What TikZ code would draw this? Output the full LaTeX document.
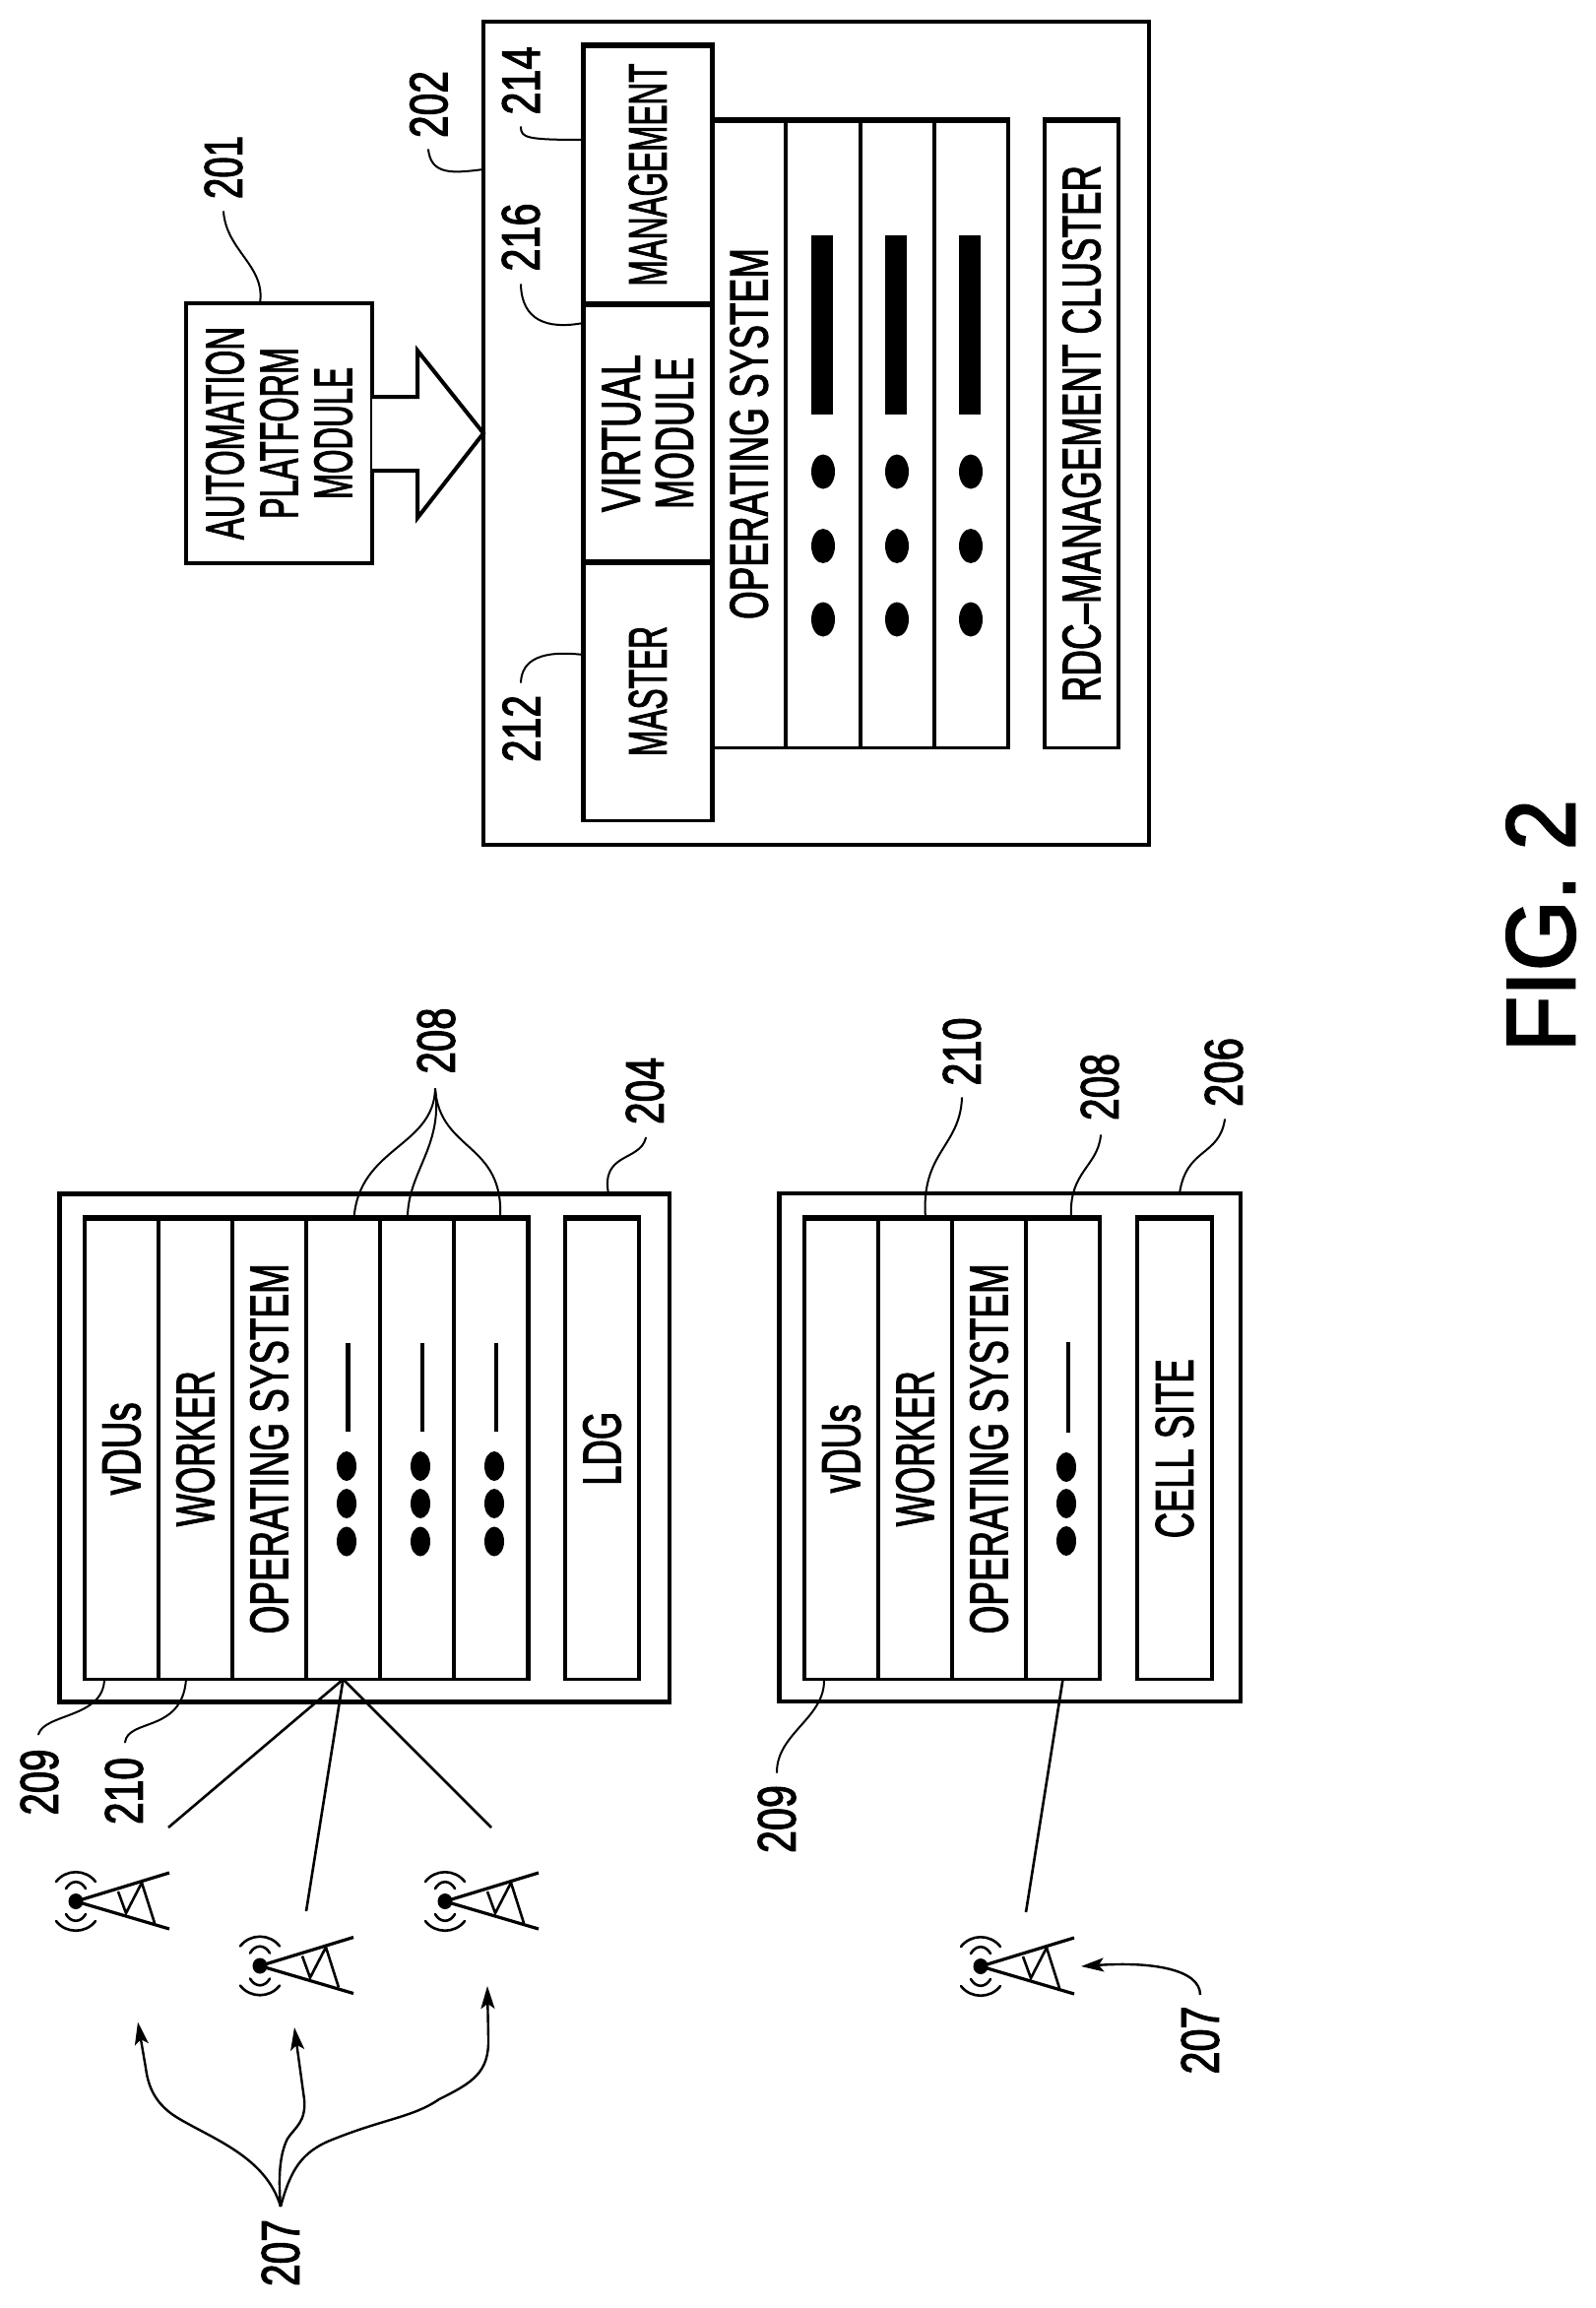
\documentclass[tikz,border=0pt]{standalone}
\usepackage{fontspec}
\setmainfont{Liberation Sans}
\newfontfamily\inkfont[FakeBold=2.4]{Liberation Sans}
\usetikzlibrary{arrows.meta,shapes.geometric}
% ink-fitted text: length along the reading direction, cap height
\newcommand{\ft}[3]{\resizebox{#1pt}{#2pt}{\inkfont #3}}
\newcommand{\vt}[3]{\rotatebox{90}{\ft{#1}{#2}{#3}}}
\newcommand{\vtwo}[2]{\rotatebox{90}{\vbox{\baselineskip=54pt\lineskiplimit=-200pt\hbox to 165pt{\hfil#1\hfil}\hbox to 165pt{\hfil#2\hfil}}}}
\newcommand{\vthree}[3]{\rotatebox{90}{\vbox{\baselineskip=55pt\lineskiplimit=-200pt\hbox to 220pt{\hfil#1\hfil}\hbox to 220pt{\hfil#2\hfil}\hbox to 220pt{\hfil#3\hfil}}}}
\tikzset{
  box/.style={draw=black,fill=white,line width=3pt,inner sep=0pt,outer sep=0pt,line join=miter},
  outerbox/.style={box,line width=4.5pt},
  topedge/.style={line width=6pt},
  sideedge/.style={line width=4.6pt},
  inkbar/.style={fill=black,draw=none,inner sep=0pt,outer sep=0pt},
  inkdot/.style={ellipse,fill=black,draw=none,inner sep=0pt,outer sep=0pt},
  lbl/.style={inner sep=0pt,outer sep=0pt},
  leader/.style={line width=2pt,line cap=round},
  link/.style={line width=2.6pt},
  headed/.style={line width=2.4pt,-{Stealth[length=23pt,width=14pt,inset=5pt]}},
  blockarrow/.style={line width=4pt,line join=miter,fill=white},
  tower/.pic={
    \fill (0,0) ellipse[x radius=7.5pt,y radius=8pt];
    \draw[line width=3.2pt] (95,-29) -- (0,0) -- (95,28);
    \draw[line width=2.6pt] (43,-10) -- (51,12) -- (67,-19) -- (80,22);
    \draw[line width=2.6pt,line cap=round]
      (-10,-13) .. controls (-5,-22) and (5,-22) .. (10,-13)
      (-20,-20) .. controls (-10,-33) and (10,-33) .. (20,-20)
      (-10,13) .. controls (-5,22) and (5,22) .. (10,13)
      (-20,20) .. controls (-10,33) and (10,33) .. (20,20);
  }
}
\begin{document}
\begin{tikzpicture}[x=1pt,y=-1pt]
\useasboundingbox (0,0) rectangle (1621,2344);
\fill[white] (0,0) rectangle (1621,2344);

% ---------- regional data centre block ----------
\node[box,line width=4pt,minimum width=189pt,minimum height=264pt] (apm) at (283.5,440)
  {\vthree{\ft{216}{38}{AUTOMATION}}{\ft{174}{38}{PLATFORM}}{\ft{134}{38}{MODULE}}};
\node[outerbox,line width=4pt,minimum width=676pt,minimum height=836pt] (rdc) at (829,440) {};
\node[box,minimum width=131pt,minimum height=263pt] (mgmt) at (658,177.5) {\vt{226}{38}{MANAGEMENT}};
\node[box,minimum width=131pt,minimum height=262pt] (virt) at (658,440)
  {\vtwo{\ft{160}{38}{VIRTUAL}}{\ft{154}{38}{MODULE}}};
\node[box,minimum width=131pt,minimum height=262pt] (master) at (658,702) {\vt{132}{38}{MASTER}};
\node[box,minimum width=74.5pt,minimum height=637pt] (ros) at (760.75,440.5) {\vt{377}{38}{OPERATING SYSTEM}};
\node[box,minimum width=76pt,minimum height=637pt] (r1) at (836,440.5) {};
\node[box,minimum width=75pt,minimum height=637pt] (r2) at (911.5,440.5) {};
\node[box,minimum width=75pt,minimum height=637pt] (r3) at (986.5,440.5) {};
\node[box,minimum width=75pt,minimum height=637pt] (rcl) at (1098.5,440.5) {\vt{545}{38}{RDC–MANAGEMENT CLUSTER}};
\node[inkbar,minimum width=22pt,minimum height=182pt] (rb1) at (835,330) {};
\node[inkbar,minimum width=22pt,minimum height=182pt] (rb2) at (910,330) {};
\node[inkbar,minimum width=22pt,minimum height=182pt] (rb3) at (985,330) {};
\foreach \nx/\cx in {1/836,2/911,3/986}{
  \node[inkdot,minimum width=24pt,minimum height=35pt] (rd\nx a) at (\cx,479) {};
  \node[inkdot,minimum width=24pt,minimum height=35pt] (rd\nx b) at (\cx,554.5) {};
  \node[inkdot,minimum width=24pt,minimum height=35pt] (rd\nx c) at (\cx,629) {};
}
% block arrow
\draw[blockarrow] ([yshift=37pt]apm.east) -- (424,403) -- (424,356) -- (rdc.west) -- (424,526) -- (424,478) -- ([yshift=-38pt]apm.east);

% ---------- LDG block ----------
\node[outerbox,minimum width=619.5pt,minimum height=516pt] (ldc) at (370.25,1470.5) {};
\node[box,minimum width=75pt,minimum height=468.5pt] (lv) at (123.5,1471.25) {\vt{94}{38}{vDUs}};
\node[box,minimum width=75pt,minimum height=468.5pt] (lw) at (198.5,1471.25) {\vt{158}{38}{WORKER}};
\node[box,minimum width=75pt,minimum height=468.5pt] (los) at (273.5,1471.25) {\vt{376}{38}{OPERATING SYSTEM}};
\node[box,minimum width=75pt,minimum height=468.5pt] (l1) at (348.5,1471.25) {};
\node[box,minimum width=75pt,minimum height=468.5pt] (l2) at (423.5,1471.25) {};
\node[box,minimum width=75.5pt,minimum height=468.5pt] (l3) at (498.75,1471.25) {};
\node[box,minimum width=75pt,minimum height=468.5pt] (ldg) at (611.5,1471.25) {\vt{75}{38}{LDG}};
\foreach \nx/\cx/\bx in {1/352/353.5,2/427/429,3/502/504}{
  \node[inkbar,minimum width=4.5pt,minimum height=90pt] (lb\nx) at (\bx,1409) {};
  \node[inkdot,minimum width=20pt,minimum height=30pt] (ld\nx a) at (\cx,1489) {};
  \node[inkdot,minimum width=20pt,minimum height=30pt] (ld\nx b) at (\cx,1527) {};
  \node[inkdot,minimum width=20pt,minimum height=30pt] (ld\nx c) at (\cx,1565.5) {};
}

% ---------- cell site block ----------
\node[outerbox,minimum width=468.5pt,minimum height=516pt] (cdc) at (1025.75,1470) {};
\node[box,minimum width=75pt,minimum height=468.5pt] (cv) at (854.5,1471.25) {\vt{90}{38}{vDUs}};
\node[box,minimum width=75pt,minimum height=468.5pt] (cw) at (929.5,1471.25) {\vt{158}{38}{WORKER}};
\node[box,minimum width=75pt,minimum height=468.5pt] (cos) at (1004.5,1471.25) {\vt{376}{38}{OPERATING SYSTEM}};
\node[box,minimum width=75pt,minimum height=468.5pt] (c1) at (1079.5,1471.25) {};
\node[box,minimum width=76pt,minimum height=468.5pt] (cs) at (1193,1471.25) {\vt{182}{38}{CELL SITE}};
\node[inkbar,minimum width=4.5pt,minimum height=92pt] (cb1) at (1085,1409) {};
\node[inkdot,minimum width=20pt,minimum height=30pt] (cd1a) at (1083,1490) {};
\node[inkdot,minimum width=20pt,minimum height=30pt] (cd1b) at (1083,1527) {};
\node[inkdot,minimum width=20pt,minimum height=30pt] (cd1c) at (1083,1565) {};

% heavier scan weight of the top and side edges of the strips
\foreach \n in {mgmt,virt,master,ros,r1,r2,r3,rcl,lv,lw,los,l1,l2,l3,ldg,cv,cw,cos,c1,cs}{
  \draw[sideedge] ([yshift=-1.5pt]\n.south west) -- (\n.north west)
                  ([yshift=-1.5pt]\n.south east) -- (\n.north east);
  \draw[topedge] ([xshift=-2.3pt]\n.north west) -- ([xshift=2.3pt]\n.north east);
}

% ---------- towers ----------
\pic (ta) at (77,1931) {tower};
\pic (tb) at (264,1996.5) {tower};
\pic (tc) at (452,1931) {tower};
\pic (td) at (996,1997) {tower};

% ---------- free ends ----------
\coordinate (ea) at (171,1856);
\coordinate (eb) at (311,1941);
\coordinate (ec) at (499,1856);
\coordinate (ed) at (1042,1942);
\draw[link] (l1.south) -- (ea);
\draw[link] (l1.south) -- (eb);
\draw[link] (l1.south) -- (ec);
\draw[link] (c1.south) -- (ed);

% ---------- reference numerals ----------
\node[lbl] (n201) at (227,170) {\vt{64}{38}{201}};
\node[lbl] (n202) at (435.5,106) {\vt{68}{38}{202}};
\node[lbl] (n214) at (529,82) {\vt{69}{38}{214}};
\node[lbl] (n216) at (529,241) {\vt{69}{38}{216}};
\node[lbl] (n212) at (529.5,740) {\vt{68}{38}{212}};
\node[lbl] (n208a) at (443,1057) {\vt{67}{38}{208}};
\node[lbl] (n204) at (655,1108) {\vt{68}{38}{204}};
\node[lbl] (n209a) at (40,1810) {\vt{67}{38}{209}};
\node[lbl] (n210a) at (126,1819) {\vt{68}{38}{210}};
\node[lbl] (n210b) at (977,1068) {\vt{69}{38}{210}};
\node[lbl] (n208b) at (1117,1104) {\vt{68}{38}{208}};
\node[lbl] (n206) at (1243,1089) {\vt{70}{38}{206}};
\node[lbl] (n209b) at (789,1847.5) {\vt{69}{38}{209}};
\node[lbl] (n207a) at (285,2288) {\vt{68}{38}{207}};
\node[lbl] (n207b) at (1219,2072) {\vt{69}{38}{207}};
\node[lbl] (fig) at (1565,940) {\vt{256}{69}{FIG. 2}};

% ---------- leaders ----------
\coordinate (f201) at (227,215);
\coordinate (f202) at (435,152);
\coordinate (f214) at (529,129);
\coordinate (f216) at (529,289);
\coordinate (f212) at (529,693);
\coordinate (f208) at (442,1106);
\coordinate (f204) at (656,1155.5);
\coordinate (f209a) at (39,1761.5);
\coordinate (f210a) at (127,1769.5);
\coordinate (f209b) at (789,1800);
\coordinate (f210b) at (977,1115);
\coordinate (f208b) at (1118,1153);
\coordinate (f206) at (1244,1137);
\coordinate (f207) at (285,2241);
\coordinate (f207b) at (1219,2026);
\coordinate (tipa) at (140,2053.5);
\coordinate (tipb) at (299,2059);
\coordinate (tipc) at (495,2017);
\coordinate (tipd) at (1098,1997);

\draw[leader] (f201) .. controls (230,255) and (270,270) .. ([xshift=-19.5pt]apm.north);
\draw[leader] (f202) .. controls (438,178) and (460,176) .. ([yshift=268pt]rdc.west);
\draw[leader] (f214) .. controls (529,140) and (535,142) .. ([yshift=35.5pt]mgmt.west);
\draw[leader] (f216) .. controls (530,325) and (555,335) .. ([yshift=112pt]virt.west);
\draw[leader] (f212) .. controls (530,670) and (550,660) .. ([yshift=37pt]master.west);
\draw[leader] (f208) .. controls (440,1165) and (365,1165) .. ([xshift=11pt]l1.north);
\draw[leader] (f208) .. controls (450,1165) and (414,1190) .. ([xshift=-9.5pt]l2.north);
\draw[leader] (f208) .. controls (447,1170) and (512,1160) .. ([xshift=9.25pt]l3.north);
\draw[leader] (f204) .. controls (650,1180) and (610,1170) .. ([xshift=247.75pt]ldc.north);
\draw[leader] (f209a) .. controls (45,1740) and (105,1745) .. ([xshift=-17.5pt]lv.south);
\draw[leader] (f210a) .. controls (130,1745) and (185,1760) .. ([xshift=-9.5pt]lw.south);
\draw[leader] (f209b) .. controls (789,1760) and (838,1745) .. ([xshift=-17.5pt]cv.south);
\draw[leader] (f210b) .. controls (975,1165) and (935,1170) .. ([xshift=10.5pt]cw.north);
\draw[leader] (f208b) .. controls (1115,1185) and (1085,1190) .. ([xshift=8.5pt]c1.north);
\draw[leader] (f206) .. controls (1238,1175) and (1205,1165) .. ([xshift=172.25pt]cdc.north);

% ---------- arrows to the towers ----------
\draw[headed] (f207) .. controls (270,2190) and (215,2172) .. (179,2150)
  .. controls (155,2135) and (150,2115) .. (148,2100) -- (tipa);
\draw[headed] (f207) .. controls (283,2215) and (283,2190) .. (292,2172)
  .. controls (300,2160) and (311,2155) .. (309,2132) -- (tipb);
\draw[headed] (f207) .. controls (295,2205) and (305,2185) .. (340,2172)
  .. controls (390,2152) and (420,2150) .. (446,2132)
  .. controls (480,2115) and (497,2105) .. (496,2070) -- (tipc);
\draw[headed] (f207b) .. controls (1219,2000) and (1170,1992) .. (tipd);
\end{tikzpicture}
\end{document}
